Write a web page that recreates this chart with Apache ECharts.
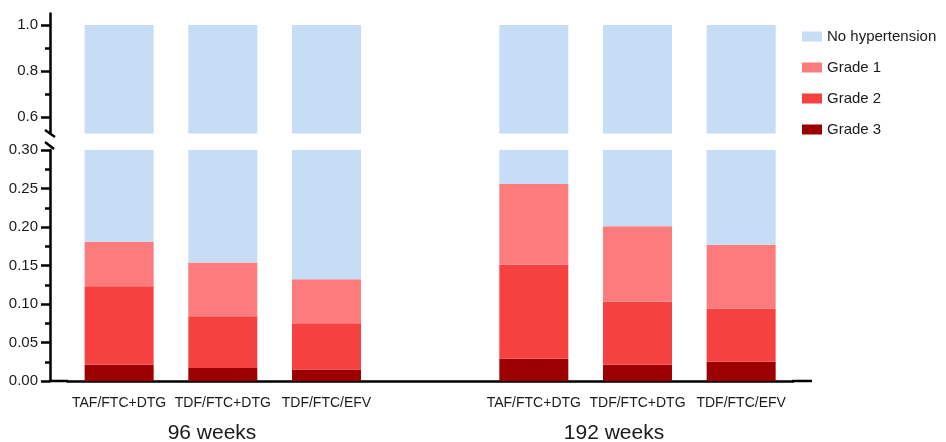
<!DOCTYPE html>
<html>
<head>
<meta charset="utf-8">
<script src="https://cdn.jsdelivr.net/npm/echarts@6/dist/echarts.min.js"></script>
<style>
html,body{margin:0;padding:0;background:#fff;}
#chart{width:946px;height:442px;}
</style>
</head>
<body>
<div id="chart"></div>
<script>
const categories = ['TAF/FTC+DTG','TDF/FTC+DTG','TDF/FTC/EFV','','TAF/FTC+DTG','TDF/FTC+DTG','TDF/FTC/EFV'];
const grade3 = [0.021,0.017,0.015,null,0.029,0.021,0.025];
const grade2 = [0.102,0.067,0.060,null,0.122,0.082,0.069];
const grade1 = [0.058,0.070,0.057,null,0.105,0.098,0.083];
const noHypertension = [0.819,0.846,0.868,null,0.744,0.799,0.823];
const groupLabels = ['96 weeks','192 weeks'];
const upperMajorTicks = [0.6,0.8,1.0];
const upperMinorTicks = [0.7,0.9];
const seriesNames = ['No hypertension','Grade 1','Grade 2','Grade 3'];

const colors = {
  'No hypertension':'#c7dcf5',
  'Grade 1':'#fc7c7e',
  'Grade 2':'#f64141',
  'Grade 3':'#9d0000'
};
const FONT = 'Liberation Sans, Arial, sans-serif';
const gridLeft = 67.3, gridWidth = 725.7;
const axisX = 50;
const axisOffset = gridLeft - axisX;
const lineW = 2.5;

const stackOrder = [
  ['Grade 3', grade3],
  ['Grade 2', grade2],
  ['Grade 1', grade1],
  ['No hypertension', noHypertension]
];

const series = [];
[['lo',0],['hi',1]].forEach(([stack, idx]) => {
  stackOrder.forEach(([name, data]) => {
    series.push({
      type:'bar', name, stack, data,
      xAxisIndex: idx, yAxisIndex: idx,
      barWidth: 69,
      itemStyle:{color: colors[name], borderWidth:0},
      emphasis:{disabled:true},
      clip:true,
      animation:false
    });
  });
});

const chart = echarts.init(document.getElementById('chart'), null, {renderer:'canvas'});
chart.setOption({
  animation:false,
  legend:{
    orient:'vertical',
    left:797, top:24,
    itemWidth:20, itemHeight:10, itemGap:16,
    data: seriesNames,
    icon:'rect',
    selectedMode:false,
    textStyle:{fontFamily:FONT, fontSize:15, color:'#1a1a1a'}
  },
  grid:[
    {left:gridLeft, width:gridWidth, top:150, height:231, outerBoundsMode:'none'},
    {left:gridLeft, width:gridWidth, top:13.5, height:120, outerBoundsMode:'none'}
  ],
  xAxis:[
    {type:'category', gridIndex:0, data:categories,
     axisLine:{lineStyle:{color:'#000', width:lineW}},
     axisTick:{alignWithLabel:true, length:8, lineStyle:{color:'#000', width:lineW}},
     axisLabel:{fontFamily:FONT, fontSize:14, color:'#1a1a1a', margin:15, interval:0}
    },
    {type:'category', gridIndex:1, data:categories, show:false}
  ],
  yAxis:[
    {type:'value', gridIndex:0, min:0, max:0.30, interval:0.05, offset:axisOffset,
     splitLine:{show:false},
     axisLine:{show:true, lineStyle:{color:'#000', width:lineW}},
     axisTick:{show:true, length:9, lineStyle:{color:'#000', width:lineW}},
     minorTick:{show:true, splitNumber:2, length:5, lineStyle:{color:'#000', width:lineW}},
     axisLabel:{fontFamily:FONT, fontSize:15, color:'#1a1a1a', margin:12, formatter:v=>v.toFixed(2)}
    },
    {type:'value', gridIndex:1, min:0.53, max:1.05, offset:axisOffset,
     splitLine:{show:false},
     axisLine:{show:true, lineStyle:{color:'#000', width:lineW}},
     axisTick:{show:true, length:9, customValues:upperMajorTicks, lineStyle:{color:'#000', width:lineW}},
     axisLabel:{fontFamily:FONT, fontSize:15, color:'#1a1a1a', margin:12, customValues:upperMajorTicks, formatter:v=>v.toFixed(1)}
    },
    {type:'value', gridIndex:1, min:0.53, max:1.05, offset:axisOffset, position:'left',
     splitLine:{show:false},
     axisLine:{show:false},
     axisTick:{show:true, length:5, customValues:upperMinorTicks, lineStyle:{color:'#000', width:lineW}},
     axisLabel:{show:false}
    }
  ],
  graphic:[
    {type:'line', shape:{x1:axisX-1, y1:381, x2:gridLeft+1, y2:381}, style:{stroke:'#000', lineWidth:lineW}},
    {type:'line', shape:{x1:gridLeft+gridWidth-1, y1:381, x2:812, y2:381}, style:{stroke:'#000', lineWidth:lineW}},
    {type:'line', shape:{x1:45, y1:130, x2:55, y2:137}, style:{stroke:'#000', lineWidth:lineW}},
    {type:'line', shape:{x1:45, y1:142, x2:54, y2:149}, style:{stroke:'#000', lineWidth:lineW}},
    {type:'text', style:{text:groupLabels[0], x:212, y:433, textAlign:'center', textVerticalAlign:'middle', font:'21px ' + FONT, fill:'#1a1a1a'}},
    {type:'text', style:{text:groupLabels[1], x:614, y:433, textAlign:'center', textVerticalAlign:'middle', font:'21px ' + FONT, fill:'#1a1a1a'}}
  ],
  series
});
</script>
</body>
</html>
